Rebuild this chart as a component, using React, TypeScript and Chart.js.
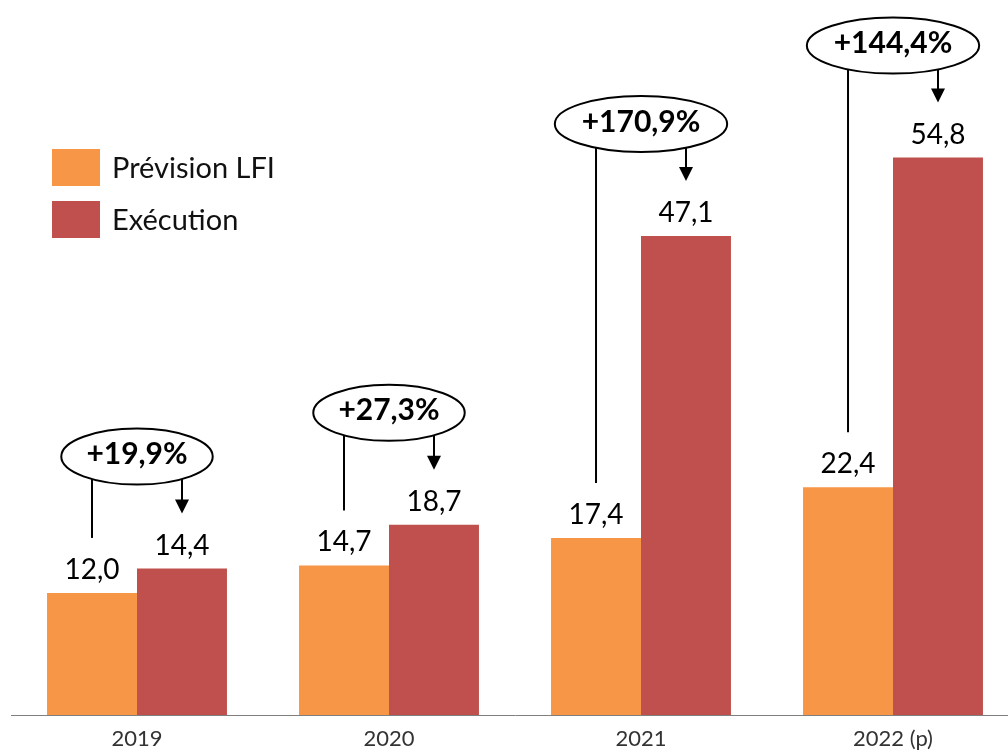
import React, { useEffect, useRef } from "react";
import { Chart, registerables } from "chart.js";

Chart.register(...registerables);

const categories = ["2019", "2020", "2021", "2022 (p)"];
const previsionLFI = [12.0, 14.7, 17.4, 22.4];
const execution = [14.4, 18.7, 47.1, 54.8];
const variations = ["+19,9%", "+27,3%", "+170,9%", "+144,4%"];
const seriesNames = ["Prévision LFI", "Exécution"];
const seriesColors = ["#F79646", "#C0504D"];

const FONT = "Lato, 'Noto Sans', sans-serif";

const fmt = (v: number) => v.toFixed(1).replace(".", ",");

const annotPlugin = {
  id: "annot",
  afterDatasetsDraw(chart: any) {
    const ctx = chart.ctx as CanvasRenderingContext2D;
    const m0 = chart.getDatasetMeta(0);
    const m1 = chart.getDatasetMeta(1);
    ctx.save();
    // value labels
    [m0, m1].forEach((meta: any, di: number) => {
      meta.data.forEach((bar: any, i: number) => {
        const v = chart.data.datasets[di].data[i] as number;
        ctx.font = `28px ${FONT}`;
        ctx.fillStyle = "#000";
        ctx.textAlign = "center";
        ctx.textBaseline = "alphabetic";
        ctx.fillText(fmt(v), bar.x, bar.y - 14);
      });
    });
    // ellipses + connectors
    for (let i = 0; i < categories.length; i++) {
      const b0 = m0.data[i];
      const b1 = m1.data[i];
      const cx = (b0.x + b1.x) / 2;
      const ry = 28;
      const cy = b1.y - 84 - ry;
      ctx.font = `bold 30px ${FONT}`;
      const tw = ctx.measureText(variations[i]).width;
      const rx = tw * 0.6 + 15;

      ctx.lineWidth = 2;
      ctx.strokeStyle = "#000";
      ctx.fillStyle = "#000";

      // left line from ellipse to above prevision label
      const lx = b0.x;
      const dl = lx - cx;
      const eyl = cy + ry * Math.sqrt(Math.max(0, 1 - (dl / rx) ** 2));
      ctx.beginPath();
      ctx.moveTo(lx, eyl);
      ctx.lineTo(lx, b0.y - 55);
      ctx.stroke();

      // arrow towards execution label
      const ax = b1.x;
      const da = ax - cx;
      const eya = cy + ry * Math.sqrt(Math.max(0, 1 - (da / rx) ** 2));
      const tip = b1.y - 55;
      ctx.beginPath();
      ctx.moveTo(ax, eya);
      ctx.lineTo(ax, tip - 12);
      ctx.stroke();
      ctx.beginPath();
      ctx.moveTo(ax - 7, tip - 14);
      ctx.lineTo(ax + 7, tip - 14);
      ctx.lineTo(ax, tip);
      ctx.closePath();
      ctx.fill();

      // ellipse
      ctx.beginPath();
      ctx.ellipse(cx, cy, rx, ry, 0, 0, Math.PI * 2);
      ctx.fillStyle = "#fff";
      ctx.fill();
      ctx.stroke();
      ctx.fillStyle = "#000";
      ctx.textAlign = "center";
      ctx.textBaseline = "middle";
      ctx.fillText(variations[i], cx, cy - 2);
    }
    ctx.restore();
  },
  afterDraw(chart: any) {
    const ctx = chart.ctx as CanvasRenderingContext2D;
    const left = chart.chartArea.left + 41;
    ctx.save();
    chart.data.datasets.forEach((ds: any, i: number) => {
      const top = 149 + i * 52;
      ctx.fillStyle = ds.backgroundColor;
      ctx.fillRect(left, top, 48, 37);
      ctx.fillStyle = "#111";
      ctx.font = `29px ${FONT}`;
      ctx.textAlign = "left";
      ctx.textBaseline = "middle";
      ctx.fillText(ds.label, left + 60, top + 20);
    });
    ctx.restore();
  },
};

export default function App() {
  const ref = useRef<HTMLCanvasElement | null>(null);
  useEffect(() => {
    if (!ref.current) return;
    const chart = new Chart(ref.current, {
      type: "bar",
      data: {
        labels: categories,
        datasets: [
          { label: seriesNames[0], data: previsionLFI, backgroundColor: seriesColors[0] },
          { label: seriesNames[1], data: execution, backgroundColor: seriesColors[1] },
        ],
      },
      options: {
        animation: false,
        responsive: false,
        devicePixelRatio: 1,
        layout: { padding: { left: 11, right: 11, top: 3, bottom: 0 } },
        datasets: { bar: { categoryPercentage: 0.714, barPercentage: 1.0 } },
        plugins: { legend: { display: false }, tooltip: { enabled: false }, title: { display: false } },
        scales: {
          x: {
            grid: { display: false, drawTicks: false },
            border: { display: true, color: "#7F7F7F", width: 1 },
            ticks: { color: "#333", font: { family: FONT, size: 22 }, padding: 11 },
            afterFit: (scale: any) => {
              scale.height = 38;
            },
          },
          y: {
            display: false,
            min: 0,
            max: 70,
          },
        },
      },
      plugins: [annotPlugin],
    } as any);
    return () => chart.destroy();
  }, []);
  return (
    <div style={{ position: "fixed", left: 0, top: 0, width: 1008, height: 753, overflow: "hidden", background: "#fff" }}>
      <canvas ref={ref} width={1030} height={753} style={{ display: "block" }} />
    </div>
  );
}
